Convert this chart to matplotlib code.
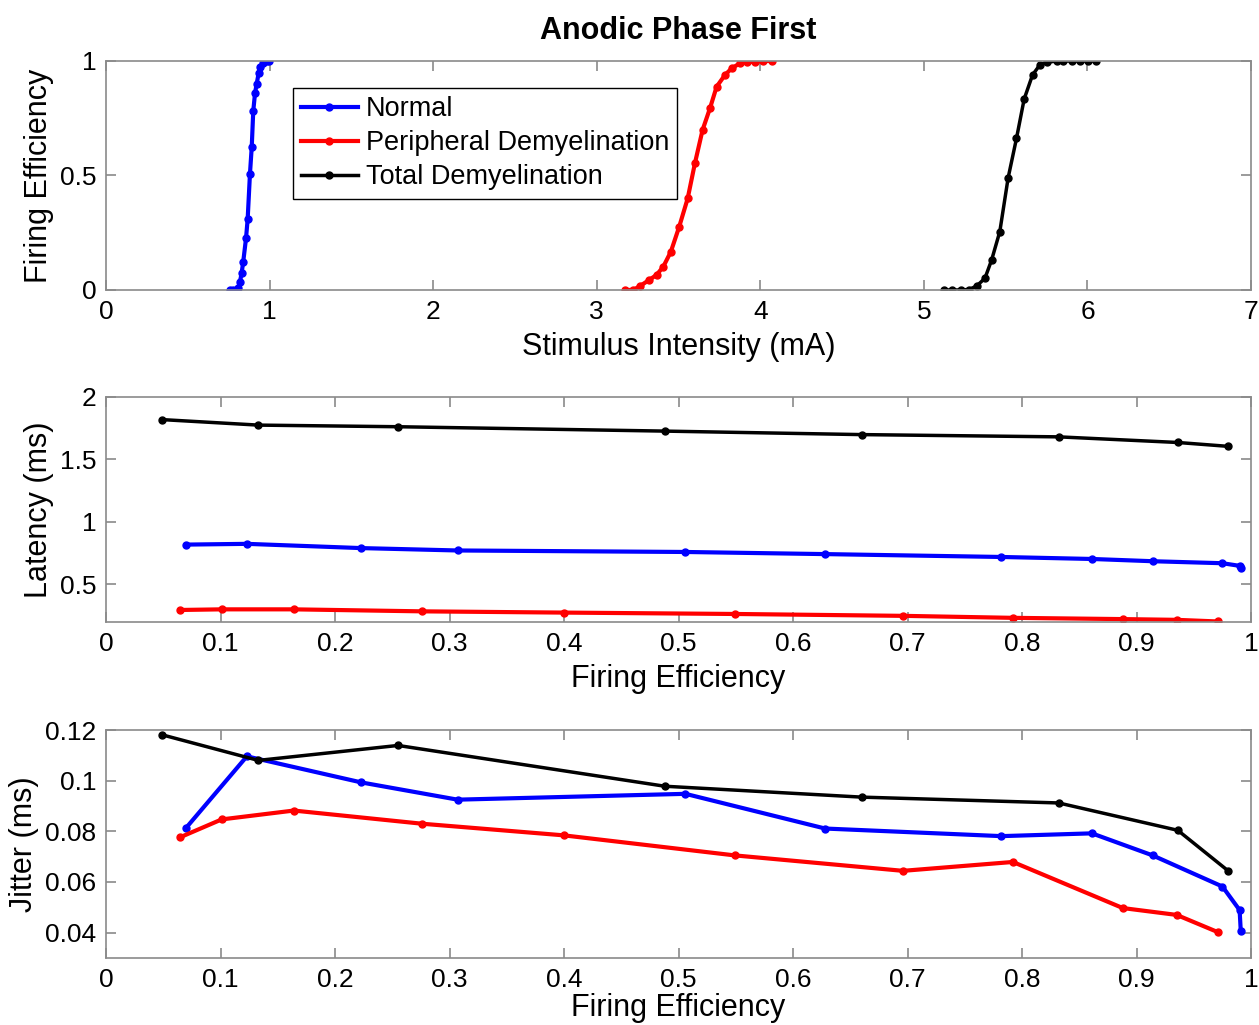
import matplotlib
matplotlib.use("Agg")
import matplotlib.pyplot as plt

plt.rcParams['font.family'] = ['Liberation Sans', 'DejaVu Sans']

# top panel: firing efficiency vs stimulus intensity
normal_i = [0.758, 0.778, 0.809, 0.819, 0.829, 0.839, 0.856, 0.866, 0.880, 0.891,
            0.900, 0.911, 0.921, 0.933, 0.941, 0.962, 0.982, 0.996]
normal_fe = [0.0, 0.0, 0.01, 0.036, 0.073, 0.124, 0.226, 0.31, 0.507, 0.626,
             0.78, 0.86, 0.90, 0.946, 0.975, 0.99, 1.0, 1.0]
periph_i = [3.172, 3.223, 3.264, 3.321, 3.366, 3.407, 3.453, 3.504, 3.556, 3.600,
            3.647, 3.692, 3.733, 3.784, 3.825, 3.875, 3.916, 3.967, 4.018, 4.069]
periph_fe = [0.0, 0.0, 0.017, 0.044, 0.066, 0.102, 0.167, 0.276, 0.40, 0.553,
             0.699, 0.793, 0.888, 0.939, 0.968, 0.99, 0.994, 0.997, 1.0, 1.0]
total_i = [5.122, 5.173, 5.224, 5.275, 5.322, 5.373, 5.414, 5.464, 5.515, 5.566,
           5.613, 5.664, 5.709, 5.750, 5.811, 5.852, 5.903, 5.954, 6.004, 6.055]
total_fe = [0.0, 0.0, 0.0, 0.002, 0.017, 0.051, 0.131, 0.255, 0.49, 0.662,
            0.834, 0.939, 0.983, 0.994, 1.0, 1.0, 1.0, 1.0, 1.0, 1.0]

# middle and bottom panels: latency / jitter vs firing efficiency
normal_x = [0.070, 0.123, 0.223, 0.307, 0.506, 0.628, 0.782, 0.861, 0.914, 0.975, 0.990, 0.991]
normal_lat = [0.819, 0.825, 0.791, 0.772, 0.760, 0.743, 0.720, 0.704, 0.686, 0.670, 0.649, 0.634]
normal_jit = [0.0814, 0.1096, 0.0993, 0.0925, 0.0948, 0.0811, 0.0781, 0.0792, 0.0705, 0.0582, 0.0489, 0.0406]

periph_x = [0.065, 0.101, 0.164, 0.276, 0.400, 0.549, 0.696, 0.792, 0.888, 0.935, 0.971]
periph_lat = [0.296, 0.301, 0.301, 0.285, 0.275, 0.264, 0.249, 0.233, 0.223, 0.217, 0.204]
periph_jit = [0.0777, 0.0847, 0.0882, 0.0830, 0.0784, 0.0705, 0.0644, 0.0679, 0.0497, 0.0470, 0.0402]

total_x = [0.049, 0.133, 0.255, 0.488, 0.660, 0.832, 0.936, 0.980]
total_lat = [1.819, 1.775, 1.762, 1.727, 1.699, 1.681, 1.636, 1.605]
total_jit = [0.1181, 0.1080, 0.1139, 0.0978, 0.0935, 0.0912, 0.0804, 0.0644]

labels = ['Normal', 'Peripheral Demyelination', 'Total Demyelination']
colors = ['#0000ff', '#ff0000', '#000000']

fig = plt.figure(figsize=(12.59, 10.25), dpi=100)
ax1 = fig.add_axes([0.0842, 0.7171, 0.9095, 0.2234])
ax2 = fig.add_axes([0.0842, 0.3932, 0.9095, 0.2195])
ax3 = fig.add_axes([0.0842, 0.0654, 0.9095, 0.2224])

fs = 19
lfs = 22

def style(ax, xt, yt):
    for s in ax.spines.values():
        s.set_color('#8a8a8a')
        s.set_linewidth(1.2)
    ax.tick_params(direction='in', top=True, right=True, length=7, width=1.2,
                   color='#8a8a8a', labelsize=fs, pad=7)
    ax.set_xticks(xt)
    ax.set_xticklabels(['%g' % v for v in xt])
    ax.set_yticks(yt)
    ax.set_yticklabels(['%g' % v for v in yt])

def draw(ax, xs, ys):
    for x, y, c, lab in zip(xs, ys, colors, labels):
        lw = 2.5 if c == '#000000' else 3
        ax.plot(x, y, '.-', color=c, lw=lw, ms=10, label=lab)

draw(ax1, [normal_i, periph_i, total_i], [normal_fe, periph_fe, total_fe])
ax1.set_xlim(0, 7)
ax1.set_ylim(0, 1)
style(ax1, list(range(8)), [0, 0.5, 1])
ax1.set_xlabel('Stimulus Intensity (mA)', fontsize=lfs, labelpad=6)
ax1.set_ylabel('Firing Efficiency', fontsize=lfs)
ax1.set_title('Anodic Phase First', fontsize=lfs, fontweight='bold', pad=16)
leg = ax1.legend(loc='upper left', bbox_to_anchor=(0.163, 0.882), fontsize=19.5,
                 fancybox=False, edgecolor='black', framealpha=1,
                 borderaxespad=0, handlelength=2.1, borderpad=0.3,
                 labelspacing=0.3, handletextpad=0.3)
leg.get_frame().set_linewidth(1.0)

fe_ticks = [0, 0.1, 0.2, 0.3, 0.4, 0.5, 0.6, 0.7, 0.8, 0.9, 1]

draw(ax2, [normal_x, periph_x, total_x], [normal_lat, periph_lat, total_lat])
ax2.set_xlim(0, 1)
ax2.set_ylim(0.2, 2)
style(ax2, fe_ticks, [0.5, 1, 1.5, 2])
ax2.set_xlabel('Firing Efficiency', fontsize=lfs, labelpad=6)
ax2.set_ylabel('Latency (ms)', fontsize=lfs)

draw(ax3, [normal_x, periph_x, total_x], [normal_jit, periph_jit, total_jit])
ax3.set_xlim(0, 1)
ax3.set_ylim(0.03, 0.12)
style(ax3, fe_ticks, [0.04, 0.06, 0.08, 0.1, 0.12])
ax3.set_xlabel('Firing Efficiency', fontsize=lfs, labelpad=1)
ax3.set_ylabel('Jitter (ms)', fontsize=lfs)

fig.savefig('out.png', dpi=100)
